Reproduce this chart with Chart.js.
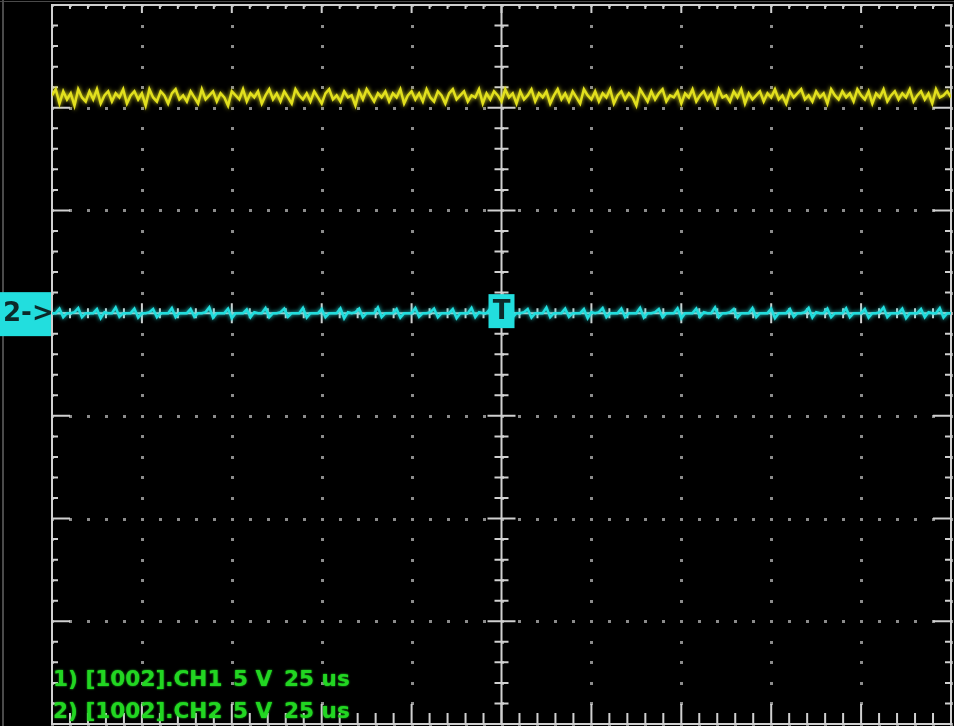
<!DOCTYPE html>
<html>
<head>
<meta charset="utf-8">
<script src="https://cdn.jsdelivr.net/npm/chart.js@4.4.1/dist/chart.umd.min.js"></script>
<style>
    html, body { margin: 0; padding: 0; background: #000; overflow: hidden; }
    canvas { display: block; }
</style>
</head>
<body>
<canvas id="scope" width="954" height="726"></canvas>
<script>
// Horizontal: 25 us/div, 10 divisions, trigger at centre
const timeMinUs = -125;
const timeMaxUs = 125;
const timePerDivUs = 25;
// Vertical: 5 V/div, screen shows 3 div above and 4 below the ground marker
const voltMin = -20;
const voltMax = 15;
const voltPerDiv = 5;
const minorPerDiv = 5;

// Captions in the lower left corner
const captionLines = [
    ["1) [1002].CH1", "5 V", "25 us"],
    ["2) [1002].CH2", "5 V", "25 us"]
];

// CH1 (yellow), volts, 241 samples across the screen
const ch1Volts = [
    10.6,10.9,10.2,10.8,10.4,10.7,10.1,10.9,10.5,10.3,
    10.8,10.4,10.9,10.2,10.6,10.8,10.3,10.7,10.5,10.9,
    10.2,10.6,10.8,10.4,10.7,10.1,10.9,10.5,10.3,10.8,
    10.6,10.2,10.7,10.9,10.4,10.6,10.3,10.8,10.5,10.2,
    10.9,10.4,10.6,10.8,10.3,10.7,10.5,10.1,10.8,10.6,
    10.4,10.9,10.3,10.7,10.5,10.8,10.2,10.6,10.9,10.4,
    10.7,10.3,10.8,10.5,10.2,10.9,10.6,10.4,10.7,10.3,
    10.8,10.5,10.2,10.7,10.9,10.4,10.6,10.3,10.8,10.5,
    10.6,10.1,10.8,10.4,10.9,10.6,10.3,10.7,10.5,10.8,
    10.3,10.7,10.5,10.9,10.2,10.6,10.8,10.4,10.7,10.3,
    10.9,10.5,10.3,10.8,10.6,10.2,10.7,10.9,10.4,10.6,
    10.8,10.3,10.6,10.5,10.9,10.2,10.7,10.4,10.8,10.6,
    10.3,10.9,10.5,10.7,10.2,10.8,10.4,10.6,10.9,10.3,
    10.7,10.5,10.8,10.2,10.6,10.9,10.4,10.7,10.3,10.8,
    10.5,10.2,10.9,10.6,10.4,10.8,10.3,10.7,10.5,10.9,
    10.2,10.6,10.8,10.4,10.7,10.5,10.1,10.9,10.6,10.3,
    10.8,10.4,10.7,10.9,10.3,10.6,10.5,10.8,10.2,10.7,
    10.5,10.9,10.3,10.6,10.8,10.4,10.7,10.2,10.9,10.5,
    10.6,10.3,10.8,10.5,10.9,10.2,10.7,10.4,10.6,10.8,
    10.3,10.7,10.5,10.9,10.4,10.6,10.2,10.8,10.5,10.7,
    10.9,10.4,10.6,10.3,10.8,10.5,10.7,10.2,10.9,10.6,
    10.4,10.8,10.5,10.7,10.3,10.9,10.6,10.4,10.8,10.2,
    10.7,10.5,10.9,10.3,10.6,10.8,10.4,10.7,10.5,10.9,
    10.3,10.6,10.8,10.4,10.7,10.2,10.9,10.5,10.6,10.8,
    10.5
];

// CH2 (cyan), volts, 241 samples: flat at 0 V with small glitches
const ch2Volts = [
    0,0,0.22,-0.2,0, 0,0.05,0.25,-0.2,0, 0,0,0.2,-0.25,0.05, 0,0,0.28,-0.18,0, 0,0,0.22,-0.22,0, 0,0.05,0.2,-0.2,0,
    0,0,0.25,-0.2,0, 0,0,0.2,-0.18,0, 0,0.05,0.28,-0.22,0, 0,0,0.22,-0.25,0, 0,0,0.18,-0.2,0.05, 0,0,0.25,-0.2,0,
    0,0.05,0.22,-0.18,0, 0,0,0.26,-0.22,0, 0,0,0.2,-0.2,0, 0,0,0.24,-0.25,0.05, 0,0.05,0.22,-0.2,0, 0,0,0.28,-0.2,0,
    0,0,0.2,-0.22,0, 0,0,0.25,-0.18,0, 0,0.05,0.22,-0.2,0, 0,0,0.2,-0.25,0, 0,0,0.26,-0.2,0.05, 0,0,0.22,-0.22,0,
    0,0,0.24,-0.2,0, 0,0.05,0.2,-0.22,0, 0,0,0.28,-0.2,0, 0,0,0.22,-0.18,0, 0,0,0.2,-0.25,0.05, 0,0.05,0.25,-0.2,0,
    0,0,0.22,-0.2,0, 0,0,0.26,-0.22,0, 0,0.05,0.2,-0.2,0, 0,0,0.24,-0.25,0, 0,0,0.22,-0.18,0.05, 0,0,0.28,-0.2,0,
    0,0.05,0.2,-0.22,0, 0,0,0.25,-0.2,0, 0,0,0.22,-0.25,0, 0,0,0.2,-0.18,0, 0,0.05,0.26,-0.22,0.05, 0,0,0.22,-0.2,0,
    0,0,0.24,-0.2,0, 0,0,0.2,-0.22,0, 0,0.05,0.28,-0.2,0, 0,0,0.22,-0.25,0, 0,0,0.2,-0.2,0.05, 0,0,0.25,-0.22,0,
    0
];

const yellow = "#e2e01e";
const cyan = "#22dede";
const gridGray = "#8c8c8c";
const frameGray = "#d0d0d0";

function toPoints(values) {
    const step = (timeMaxUs - timeMinUs) / (values.length - 1);
    return values.map((v, i) => ({ x: timeMinUs + i * step, y: v }));
}

// Graticule, ground/trigger markers and captions
const scopeScreen = {
    id: "scopeScreen",
    beforeDraw(chart) {
        const ctx = chart.ctx;
        ctx.save();
        ctx.fillStyle = "#000";
        ctx.fillRect(0, 0, chart.width, chart.height);
        ctx.fillStyle = "#4a4a4a";
        ctx.fillRect(2, 0, 2, chart.height);
        ctx.fillRect(0, 1, chart.width, 1);
        ctx.restore();
    },
    beforeDatasetsDraw(chart) {
        const { ctx, chartArea: a, scales: { x, y } } = chart;
        const tMinor = timePerDivUs / minorPerDiv;
        const vMinor = voltPerDiv / minorPerDiv;
        ctx.save();

        // dots along the major lines
        ctx.fillStyle = gridGray;
        for (let t = timeMinUs; t <= timeMaxUs; t += timePerDivUs) {
            for (let v = voltMin; v <= voltMax + 1e-9; v += vMinor) {
                ctx.fillRect(Math.round(x.getPixelForValue(t)) - 1, Math.round(y.getPixelForValue(v)) - 1, 3, 3);
            }
        }
        for (let v = voltMin; v <= voltMax; v += voltPerDiv) {
            for (let t = timeMinUs; t <= timeMaxUs + 1e-9; t += tMinor) {
                ctx.fillRect(Math.round(x.getPixelForValue(t)) - 1, Math.round(y.getPixelForValue(v)) - 1, 3, 3);
            }
        }

        // frame
        ctx.strokeStyle = frameGray;
        ctx.lineWidth = 2;
        ctx.strokeRect(a.left, a.top, a.right - a.left, a.bottom - a.top);

        const x0 = x.getPixelForValue(0);
        const y0 = y.getPixelForValue(0);
        ctx.beginPath();
        ctx.moveTo(x0, a.top);
        ctx.lineTo(x0, a.bottom);
        ctx.moveTo(a.left, y0);
        ctx.lineTo(a.right, y0);
        ctx.stroke();

        // ticks on frame and centre axes
        let i = 0;
        for (let t = timeMinUs; t <= timeMaxUs + 1e-9; t += tMinor, i++) {
            const px = x.getPixelForValue(t);
            const major = i % minorPerDiv === 0;
            ctx.beginPath();
            ctx.moveTo(px, a.bottom);
            ctx.lineTo(px, a.bottom - (major ? 20 : 11));
            ctx.moveTo(px, a.top);
            ctx.lineTo(px, a.top + (major ? 8 : 4));
            ctx.moveTo(px, y0 - (major ? 10 : 5));
            ctx.lineTo(px, y0 + (major ? 10 : 5));
            ctx.stroke();
        }
        i = 0;
        for (let v = voltMin; v <= voltMax + 1e-9; v += vMinor, i++) {
            const py = y.getPixelForValue(v);
            const major = i % minorPerDiv === 0;
            ctx.beginPath();
            ctx.moveTo(a.left, py);
            ctx.lineTo(a.left + (major ? 18 : 6), py);
            ctx.moveTo(a.right, py);
            ctx.lineTo(a.right - (major ? 18 : 6), py);
            ctx.moveTo(x0 - (major ? 14 : 7), py);
            ctx.lineTo(x0 + (major ? 14 : 7), py);
            ctx.stroke();
        }
        ctx.restore();
    },
    // soft phosphor glow on the traces
    beforeDatasetDraw(chart, args) {
        const ctx = chart.ctx;
        ctx.save();
        ctx.shadowColor = args.meta.dataset.options.borderColor;
        ctx.shadowBlur = 4;
    },
    afterDatasetDraw(chart) {
        chart.ctx.restore();
    },
    afterDatasetsDraw(chart) {
        const { ctx, chartArea: a, scales: { x, y } } = chart;
        const x0 = x.getPixelForValue(0);
        const y0 = y.getPixelForValue(0);
        ctx.save();

        // CH2 ground marker
        ctx.fillStyle = cyan;
        ctx.fillRect(0, y0 - 21, a.left - 1, 44);
        ctx.fillStyle = "#0c2a2a";
        ctx.font = "bold 26px 'DejaVu Sans'";
        ctx.textBaseline = "middle";
        ctx.fillText("2->", 3, y0 + 1);

        // trigger marker
        ctx.fillStyle = cyan;
        ctx.fillRect(x0 - 13, y0 - 19, 26, 34);
        ctx.fillStyle = "#0c2a2a";
        ctx.textAlign = "center";
        ctx.fillText("T", x0, y0 - 1);

        // captions
        ctx.fillStyle = "#22d622";
        ctx.shadowColor = "#22d622";
        ctx.shadowBlur = 2;
        ctx.textAlign = "left";
        ctx.textBaseline = "alphabetic";
        ctx.font = "bold 20px 'DejaVu Sans'";
        const colX = [a.left + 1, 233, 284];
        captionLines.forEach((parts, row) => {
            const base = a.bottom - 38 + row * 32;
            parts.forEach((txt, k) => {
                ctx.save();
                ctx.translate(colX[k], base);
                ctx.scale(1.08, 1.05);
                ctx.fillText(txt, 0, 0);
                ctx.restore();
            });
        });
        ctx.restore();
    }
};

new Chart(document.getElementById("scope"), {
    type: "line",
    data: {
        datasets: [
            {
                label: "CH1",
                data: toPoints(ch1Volts),
                borderColor: yellow,
                borderWidth: 2.5,
                pointRadius: 0,
                tension: 0
            },
            {
                label: "CH2",
                data: toPoints(ch2Volts),
                borderColor: cyan,
                borderWidth: 2.5,
                pointRadius: 0,
                tension: 0
            }
        ]
    },
    options: {
        responsive: false,
        animation: false,
        devicePixelRatio: 1,
        layout: { padding: { left: 52, right: 3, top: 5, bottom: 2 } },
        scales: {
            x: { type: "linear", min: timeMinUs, max: timeMaxUs, display: false },
            y: { type: "linear", min: voltMin, max: voltMax, display: false }
        },
        plugins: {
            legend: { display: false },
            tooltip: { enabled: false }
        }
    },
    plugins: [scopeScreen]
});
</script>
</body>
</html>
